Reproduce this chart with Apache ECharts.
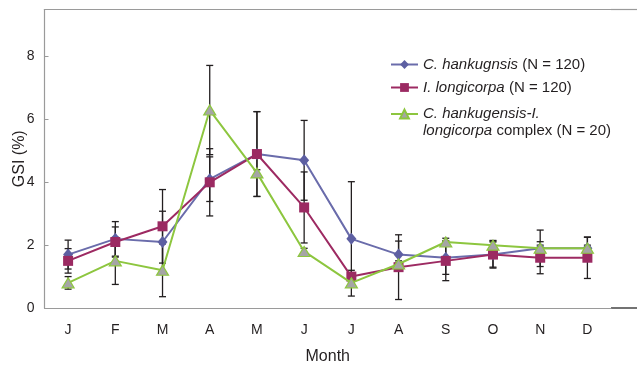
<!DOCTYPE html>
<html>
<head>
<meta charset="utf-8">
<script src="https://cdn.jsdelivr.net/npm/echarts@6/dist/echarts.min.js"></script>
<style>html,body{margin:0;padding:0;background:#fff;}#c{width:637px;height:370px;}</style>
</head>
<body>
<div id="c"></div>
<script>
var months = ['J','F','M','A','M','J','J','A','S','O','N','D'];
var yTicks = [0, 2, 4, 6, 8];

var hankMean = [1.7, 2.2, 2.1, 4.1, 4.9, 4.7, 2.2, 1.7, 1.6, 1.7, 1.9, 1.9];
var hankSD   = [0.46, 0.55, 0.98, 0.71, 1.35, 1.27, 1.82, 0.43, 0.53, 0.40, 0.58, 0.35];

var longMean = [1.5, 2.1, 2.6, 4.0, 4.9, 3.2, 1.0, 1.3, 1.5, 1.7, 1.6, 1.6];
var longSD   = [0.39, 0.48, 1.17, 1.07, 1.35, 1.13, 0.20, 1.03, 0.63, 0.43, 0.51, 0.66];

var cmplxMean = [0.8, 1.5, 1.2, 6.3, 4.3, 1.8, 0.8, 1.4, 2.1, 2.0, 1.9, 1.9];
var cmplxSD   = [0.20, 0.75, 0.84, 1.42, 0.10, 0.10, 0.10, 0.10, 0.12, 0.15, 0.10, 0.10];

var names = ['C. hankugnsis (N = 120)', 'I. longicorpa (N = 120)', 'C. hankugensis-I. longicorpa complex (N = 20)'];

var FONT = 'Liberation Sans, Arial, sans-serif';
var TXT = '#231f20';
var AX = '#9a9a9a';

function errData(mean, sd) {
  return mean.map(function (m, i) { return [i, m, sd[i]]; });
}
function errRender(params, api) {
  var x = api.value(0), m = api.value(1), s = api.value(2);
  var t = api.coord([x, m + s]);
  var b = api.coord([x, m - s]);
  var w = 3.5;
  var st = { stroke: '#231f20', lineWidth: 1.3 };
  return {
    type: 'group',
    children: [
      { type: 'line', shape: { x1: t[0], y1: t[1], x2: b[0], y2: b[1] }, style: st },
      { type: 'line', shape: { x1: t[0] - w, y1: t[1], x2: t[0] + w, y2: t[1] }, style: st },
      { type: 'line', shape: { x1: b[0] - w, y1: b[1], x2: b[0] + w, y2: b[1] }, style: st }
    ]
  };
}
function errSeries(mean, sd) {
  return {
    type: 'custom', xAxisIndex: 0, yAxisIndex: 0, z: 1, silent: true,
    renderItem: errRender, data: errData(mean, sd),
    encode: { x: 0, y: 1 }
  };
}

var rich = {
  i: { fontStyle: 'italic', fontSize: 15, fontFamily: FONT, color: TXT, lineHeight: 17 },
  n: { fontSize: 15, fontFamily: FONT, color: TXT, lineHeight: 17 }
};
function legendFmt(name) {
  if (name === names[0]) return '{i|C. hankugnsis}{n| (N = 120)}';
  if (name === names[1]) return '{i|I. longicorpa}{n| (N = 120)}';
  return '{i|C. hankugensis-I.}\n{i|longicorpa}{n| complex (N = 20)}';
}

var chart = echarts.init(document.getElementById('c'), null, { renderer: 'canvas' });
chart.setOption({
  animation: false,
  backgroundColor: '#fff',
  grid: { left: 44.5, right: 26, top: 9.5, bottom: 62, outerBoundsMode: 'none', containLabel: false },
  legend: [{
    data: [names[0], names[1]], orient: 'vertical', left: 390, top: 57, padding: 0,
    itemWidth: 27, itemHeight: 11, itemGap: 8, formatter: legendFmt,
    textStyle: { rich: rich, fontSize: 15, fontFamily: FONT, color: TXT }
  }, {
    data: [names[2]], orient: 'vertical', left: 390, top: 106.5, padding: 0,
    itemWidth: 27, itemHeight: 11, formatter: legendFmt,
    textStyle: { rich: rich, fontSize: 15, fontFamily: FONT, color: TXT, padding: [17, 0, 0, 0] }
  }],
  xAxis: [{
    type: 'category', data: months, boundaryGap: true,
    name: 'Month', nameLocation: 'middle', nameGap: 41,
    nameTextStyle: { fontSize: 16, fontFamily: FONT, color: TXT },
    axisLine: { lineStyle: { color: AX, width: 1.2 } },
    axisTick: { inside: true, length: 4, lineStyle: { color: AX } },
    axisLabel: { margin: 15, fontSize: 14, fontFamily: FONT, color: TXT, interval: 0 },
    splitLine: { show: false }
  }, {
    type: 'category', data: months, position: 'top', gridIndex: 0,
    axisLine: { show: true, lineStyle: { color: AX, width: 1.2 } },
    axisTick: { show: false }, axisLabel: { show: false }, splitLine: { show: false }
  }],
  yAxis: {
    type: 'value', min: yTicks[0], max: 9.5, interval: yTicks[1] - yTicks[0],
    name: 'GSI (%)', nameLocation: 'middle', nameGap: 17, nameMoveOverlap: false,
    nameTextStyle: { fontSize: 16, fontFamily: FONT, color: TXT },
    axisLine: { show: true, lineStyle: { color: AX, width: 1.2 } },
    axisTick: { show: true, inside: true, length: 4, lineStyle: { color: AX } },
    axisLabel: { margin: 10, fontSize: 14, fontFamily: FONT, color: TXT, showMaxLabel: false },
    splitLine: { show: false }
  },
  graphic: [
    { type: 'line', shape: { x1: 611, y1: 308, x2: 637, y2: 308 }, style: { stroke: '#444', lineWidth: 1.5 } },
    { type: 'line', shape: { x1: 611, y1: 9.5, x2: 637, y2: 9.5 }, style: { stroke: AX, lineWidth: 1.2 } }
  ],
  series: [
    errSeries(hankMean, hankSD),
    errSeries(longMean, longSD),
    errSeries(cmplxMean, cmplxSD),
    {
      name: names[0], type: 'line', z: 3, data: hankMean,
      symbol: 'diamond', symbolSize: [10, 12],
      lineStyle: { color: '#6a6cab', width: 2 },
      itemStyle: { color: '#5d5fa2', borderWidth: 0 }
    },
    {
      name: names[1], type: 'line', z: 4, data: longMean,
      symbol: 'rect', symbolSize: 10,
      lineStyle: { color: '#9d2a62', width: 2 },
      itemStyle: { color: '#9b2a62', borderWidth: 0 }
    },
    {
      name: names[2], type: 'line', z: 5, data: cmplxMean,
      symbol: 'triangle', symbolSize: [12, 10],
      lineStyle: { color: '#8dc63f', width: 2 },
      itemStyle: { color: '#a5a5a5', borderColor: '#8dc63f', borderWidth: 1.2 }
    }
  ]
});
</script>
</body>
</html>
